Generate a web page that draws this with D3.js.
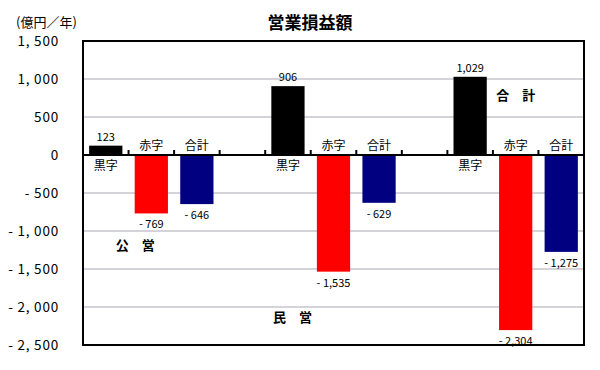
<!DOCTYPE html>
<html><head><meta charset="utf-8">
<script src="https://cdn.jsdelivr.net/npm/d3@7"></script>
<style>body{margin:0;background:#fff}svg{display:block}text{font-family:"Noto Sans CJK JP","DejaVu Sans",sans-serif}</style>
</head><body><svg id="c" width="600" height="370"></svg>
<script>
const categories = ["黒字","赤字","合計","","黒字","赤字","合計","","黒字","赤字","合計"];
const values = [123,-769,-646,null,906,-1535,-629,null,1029,-2304,-1275];
const barColors = ["#000000","#ff0000","#000080",null,"#000000","#ff0000","#000080",null,"#000000","#ff0000","#000080"];
const yTicks = [1500,1000,500,0,-500,-1000,-1500,-2000,-2500];
const yTickLabels = ["1, 500","1, 000","500","0","- 500","- 1, 000","- 1, 500","- 2, 000","- 2, 500"];
const groupNotes = [{text:"公　営",cat:1.15,val:-1184},{text:"民　営",cat:4.6,val:-2130},{text:"合　計",cat:9.5,val:790}];

const svg = d3.select("#c");
const L=83,R=584,T=41,B=345;
const x = d3.scaleBand().domain(d3.range(categories.length)).range([L,R]).padding(0);
const xc = d3.scaleLinear().domain([0,categories.length]).range([L,R]);
const y = d3.scaleLinear().domain([-2500,1500]).range([B,T]);
const bw = x.bandwidth()*0.73;

// grid
svg.append("g").selectAll("line").data(yTicks.filter(v=>v!==0 && v!==1500 && v!==-2500)).join("line")
  .attr("x1",L).attr("x2",R).attr("y1",d=>y(d)).attr("y2",d=>y(d))
  .attr("stroke","#d6d2da").attr("stroke-width",2);

// bars
const idx = d3.range(categories.length).filter(i=>values[i]!==null);
svg.append("g").selectAll("rect").data(idx).join("rect")
  .attr("x",i=>x(i)+(x.bandwidth()-bw)/2).attr("width",bw)
  .attr("y",i=>y(Math.max(0,values[i]))).attr("height",i=>Math.abs(y(values[i])-y(0)))
  .attr("fill",i=>barColors[i]);

// zero axis with ticks
svg.append("line").attr("x1",L).attr("x2",R).attr("y1",y(0)).attr("y2",y(0)).attr("stroke","#000").attr("stroke-width",2);
svg.append("g").selectAll("line").data(d3.range(1,categories.length)).join("line")
  .attr("x1",i=>x(i)).attr("x2",i=>x(i)).attr("y1",y(0)-5).attr("y2",y(0)).attr("stroke","#000").attr("stroke-width",2);

// frame
svg.append("rect").attr("x",L).attr("y",T).attr("width",R-L).attr("height",B-T).attr("fill","none").attr("stroke","#000").attr("stroke-width",2);

// category labels
svg.append("g").selectAll("text").data(idx).join("text")
  .attr("x",i=>x(i)+x.bandwidth()/2).attr("y",i=>values[i]>0?y(0)+15:y(0)-5)
  .attr("text-anchor","middle").attr("font-size",12).attr("fill","#000").text(i=>categories[i]);

// value labels
const fmt = v=> v<0 ? "- "+d3.format(",")(-v) : d3.format(",")(v);
svg.append("g").selectAll("text").data(idx).join("text")
  .attr("x",i=>x(i)+x.bandwidth()/2).attr("y",i=>values[i]>0?y(values[i])-5:y(values[i])+15)
  .attr("text-anchor","middle").attr("font-size",11).attr("fill","#000").text(i=>fmt(values[i]));

// y tick labels
svg.append("g").selectAll("text").data(yTicks).join("text")
  .attr("x",59).attr("y",(d)=>y(d)+5).attr("text-anchor","end").attr("font-size",13.5).attr("letter-spacing",0.8).attr("fill","#000")
  .text((d,i)=>yTickLabels[i]);

// unit
svg.append("text").attr("x",16).attr("y",27).attr("font-size",13).text("(億円／年)");
// title
svg.append("text").attr("x",310).attr("y",29).attr("text-anchor","middle").attr("font-size",17).attr("font-weight","bold").text("営業損益額");

// group notes
svg.append("g").selectAll("text").data(groupNotes).join("text")
  .attr("x",d=>xc(d.cat)).attr("y",d=>y(d.val)+5)
  .attr("text-anchor","middle").attr("font-size",13).attr("font-weight","bold").text(d=>d.text);
</script></body></html>
